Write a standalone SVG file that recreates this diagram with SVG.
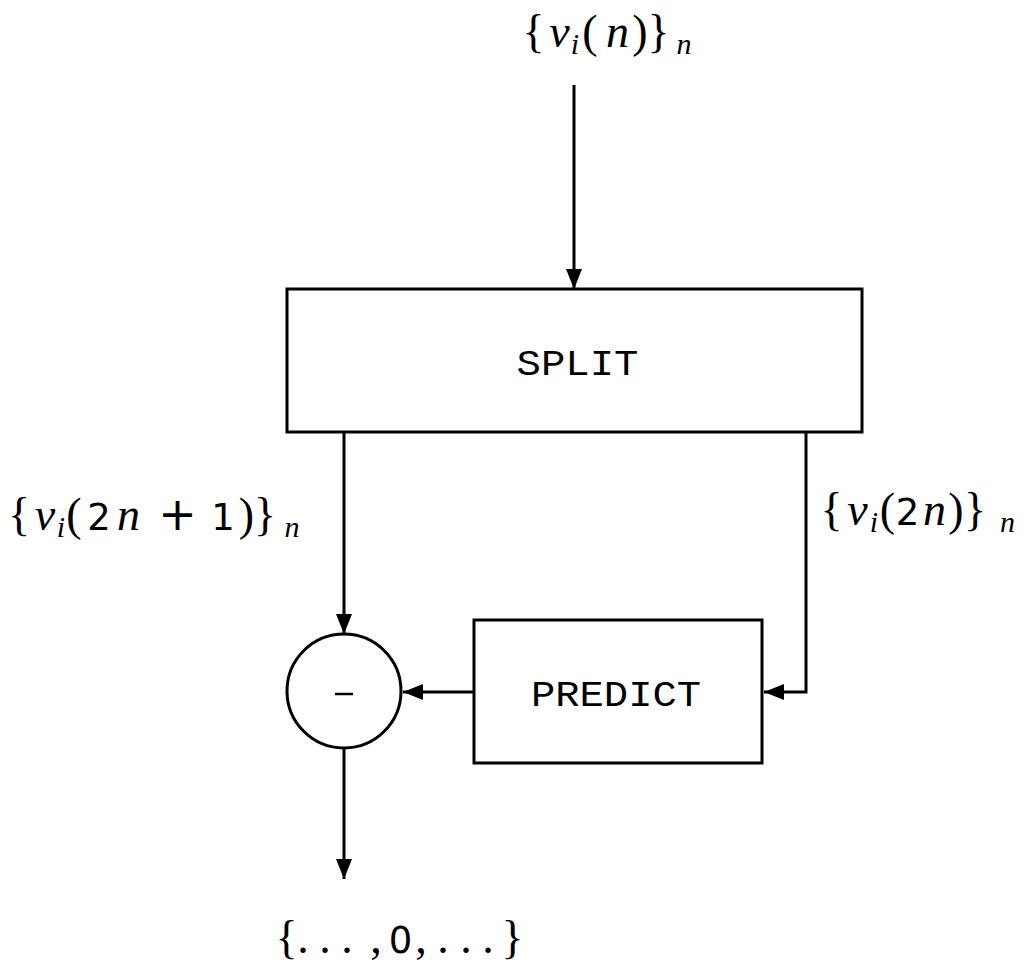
<svg xmlns="http://www.w3.org/2000/svg" width="1029" height="964" viewBox="0 0 1029 964">
<style>
.box{fill:#fff;stroke:#000;stroke-width:3}
.ln{fill:none;stroke:#000;stroke-width:3}
.mono{font-family:"Liberation Mono",monospace;font-size:36px;fill:#000}
.math{font-family:"Liberation Serif",serif;font-size:46px;fill:#000}
.it{font-style:italic}
.ss{font-family:"DejaVu Sans",sans-serif;font-size:37px}
.plus{font-family:"DejaVu Sans",sans-serif;font-size:46px}
.sub{font-size:30px;font-style:italic}
</style>
<defs>
<marker id="ah" markerWidth="20" markerHeight="16" refX="20" refY="8" orient="auto" markerUnits="userSpaceOnUse" viewBox="0 0 20 16">
<path d="M0,0 L20,8 L0,16 Z" fill="#000"/>
</marker>
</defs>
<g id="connectors">
<line class="ln" x1="574" y1="85" x2="574" y2="289" marker-end="url(#ah)"/>
<line class="ln" x1="344" y1="432" x2="344" y2="634" marker-end="url(#ah)"/>
<polyline class="ln" points="806,432 806,692 764,692" marker-end="url(#ah)"/>
<line class="ln" x1="474" y1="692" x2="403" y2="692" marker-end="url(#ah)"/>
<line class="ln" x1="344" y1="749" x2="344" y2="879" marker-end="url(#ah)"/>
</g>
<g id="split">
<rect class="box" x="287" y="289" width="575" height="143"/>
<text class="mono" x="577.5" y="375" text-anchor="middle" textLength="122" lengthAdjust="spacingAndGlyphs">SPLIT</text>
</g>
<g id="predict">
<rect class="box" x="474" y="620" width="288" height="143"/>
<text class="mono" x="616" y="706" text-anchor="middle" textLength="170" lengthAdjust="spacingAndGlyphs">PREDICT</text>
</g>
<g id="minus">
<circle class="box" cx="344" cy="691" r="57"/>
<line x1="335" y1="694" x2="353" y2="694" stroke="#000" stroke-width="2.5"/>
</g>
<g id="labels" text-anchor="middle">
<text class="math" y="47"><tspan x="533.5">{</tspan><tspan class="it" x="559.5">v</tspan><tspan class="sub" x="575" y="54">i</tspan><tspan x="590" y="47">(</tspan><tspan class="it" x="617.5">n</tspan><tspan x="640">)</tspan><tspan x="658.5">}</tspan><tspan class="sub" x="684" y="54">n</tspan></text>
<text class="math" y="530"><tspan x="19">{</tspan><tspan class="it" x="45">v</tspan><tspan class="sub" x="61" y="537">i</tspan><tspan x="74" y="530">(</tspan><tspan class="ss" x="99">2</tspan><tspan class="it" x="128.5">n</tspan><tspan class="plus" x="177.5">+</tspan><tspan class="ss" x="223">1</tspan><tspan x="246.5">)</tspan><tspan x="265">}</tspan><tspan class="sub" x="292" y="537">n</tspan></text>
<text class="math" y="525"><tspan x="831.5">{</tspan><tspan class="it" x="857.5">v</tspan><tspan class="sub" x="874" y="532">i</tspan><tspan x="887.5" y="525">(</tspan><tspan class="ss" x="907.5">2</tspan><tspan class="it" x="934.5">n</tspan><tspan x="956">)</tspan><tspan x="975">}</tspan><tspan class="sub" x="1007.5" y="532">n</tspan></text>
<text class="math" y="953"><tspan x="286.5">{</tspan><tspan x="303">.</tspan><tspan x="325">.</tspan><tspan x="347">.</tspan><tspan x="376">,</tspan><tspan class="ss" x="400.5">0</tspan><tspan x="421">,</tspan><tspan x="443">.</tspan><tspan x="466">.</tspan><tspan x="488">.</tspan><tspan x="512.5">}</tspan></text>
</g>
</svg>
